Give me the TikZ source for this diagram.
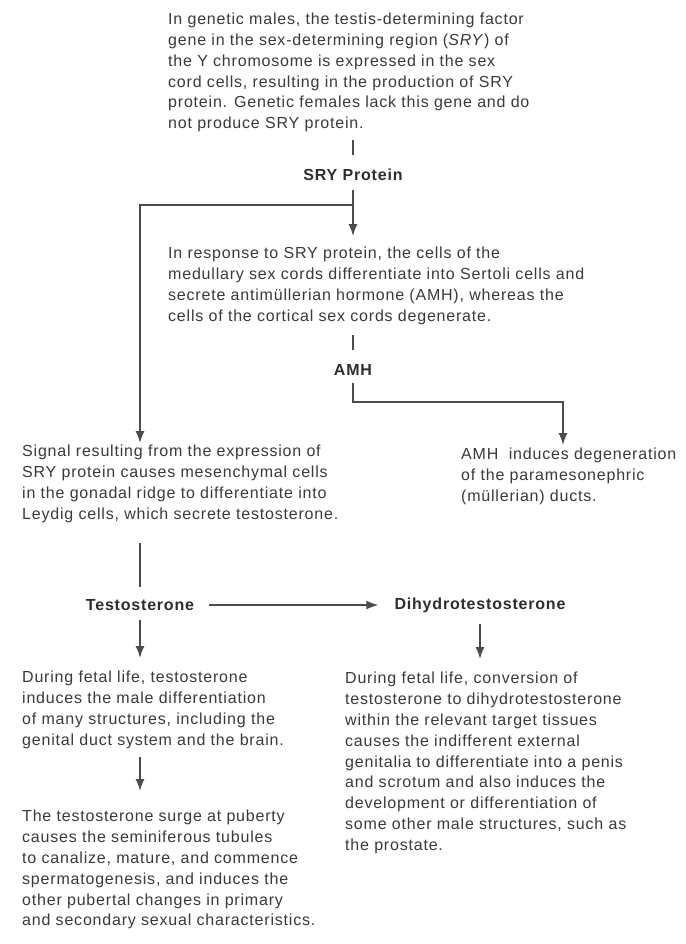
\documentclass[tikz,border=0pt]{standalone}
\usepackage{fontspec}
\setmainfont[LetterSpace=5]{Liberation Sans}
\usetikzlibrary{arrows.meta}
\definecolor{txt}{RGB}{58,58,58}
\definecolor{lbl}{RGB}{45,45,45}
\definecolor{ln}{RGB}{75,75,75}
\begin{document}
\begin{tikzpicture}[x=1pt,y=-1pt,
  txtbox/.style={anchor=north west, inner sep=0pt, align=left, text=txt, font=\fontsize{16}{20.8}\selectfont},
  lblbox/.style={inner sep=0pt, text=lbl, font=\fontsize{16}{20.8}\selectfont\bfseries},
  conn/.style={draw=ln, line width=1.5pt},
  arr/.style={conn, -{Latex[length=12pt,width=9pt]}}]
\fill[white] (0,0) rectangle (685,944);
\useasboundingbox (0,0) rectangle (685,944);

% text blocks
\node[txtbox] (t1) at (168,13) {In genetic males, the testis-determining factor\\
gene in the sex-determining region (\textit{SRY}) of\\
the Y chromosome is expressed in the sex\\
cord cells, resulting in the production of SRY\\
protein. Genetic females lack this gene and do\\
not produce SRY protein.};

\node[lblbox] (sry) at (353,175) {SRY Protein};

\node[txtbox] (t2) at (168,247) {In response to SRY protein, the cells of the\\
medullary sex cords differentiate into Sertoli cells and\\
secrete antimüllerian hormone (AMH), whereas the\\
cells of the cortical sex cords degenerate.};

\node[lblbox] (amh) at (353,370) {AMH};

\node[txtbox] (t3) at (22,445) {Signal resulting from the expression of\\
SRY protein causes mesenchymal cells\\
in the gonadal ridge to differentiate into\\
Leydig cells, which secrete testosterone.};

\node[txtbox] (t4) at (461,448) {AMH\ \ induces degeneration\\
of the paramesonephric\\
(müllerian) ducts.};

\node[lblbox] (testo) at (140,605) {Testosterone};
\node[lblbox] (dht) at (480,605) {Dihydrotestosterone};

\node[txtbox] (t5) at (22,671) {During fetal life, testosterone\\
induces the male differentiation\\
of many structures, including the\\
genital duct system and the brain.};

\node[txtbox] (t6) at (345,672) {During fetal life, conversion of\\
testosterone to dihydrotestosterone\\
within the relevant target tissues\\
causes the indifferent external\\
genitalia to differentiate into a penis\\
and scrotum and also induces the\\
development or differentiation of\\
some other male structures, such as\\
the prostate.};

\node[txtbox] (t7) at (22,810) {The testosterone surge at puberty\\
causes the seminiferous tubules\\
to canalize, mature, and commence\\
spermatogenesis, and induces the\\
other pubertal changes in primary\\
and secondary sexual characteristics.};

% junctions and arrow ends
\coordinate (j1) at (353,205);
\coordinate (a2) at (353,236);
\coordinate (a3) at (140,443);
\coordinate (j2) at (563,402);
\coordinate (a4) at (563,445);
\coordinate (c1) at (140,543);
\coordinate (c2) at (140,587);
\coordinate (a5) at (140,658);
\coordinate (a6) at (480,659);
\coordinate (c3) at (140,757);
\coordinate (a7) at (140,791);

% connectors
\draw[conn] ([yshift=29pt]sry.north) -- ([yshift=14pt]sry.north);
\draw[conn] ([yshift=-9pt]sry.south) -- (j1);
\draw[arr] (j1) -- (a2);
\draw[arr] (j1) -| (a3);
\draw[conn] ([yshift=29pt]amh.north) -- ([yshift=14pt]amh.north);
\draw[arr] ([yshift=-7pt]amh.south) |- (j2) -- (a4);
\draw[conn] (c1) -- (c2);
\draw[arr] ([xshift=15pt]testo.east) -- ([xshift=-16pt]dht.west);
\draw[arr] ([yshift=-9pt]testo.south) -- (a5);
\draw[arr] ([yshift=-11pt]dht.south) -- (a6);
\draw[arr] (c3) -- (a7);
\end{tikzpicture}
\end{document}
